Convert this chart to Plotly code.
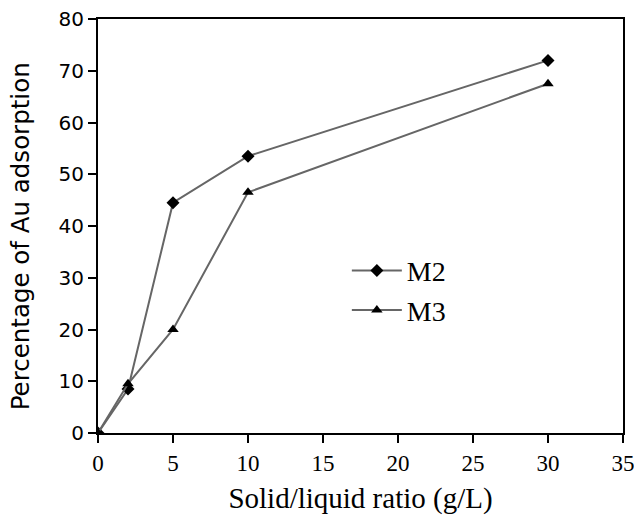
import plotly.graph_objects as go

ratio = [0, 2, 5, 10, 30]
m2 = [0, 8.5, 44.5, 53.5, 72]
m3 = [0, 9.5, 20, 46.5, 67.5]
x_ticks = [0, 5, 10, 15, 20, 25, 30, 35]
y_ticks = [0, 10, 20, 30, 40, 50, 60, 70, 80]

fig = go.Figure()
fig.add_trace(go.Scatter(x=ratio, y=m2, name="M2", mode="lines+markers",
                         line=dict(color="#666666", width=2),
                         marker=dict(symbol="diamond", size=10, color="black")))
fig.add_trace(go.Scatter(x=ratio, y=m3, name="M3", mode="lines+markers",
                         line=dict(color="#666666", width=2),
                         marker=dict(symbol="triangle-up", size=10, color="black")))

fig.update_layout(
    width=634, height=515,
    margin=dict(l=98, r=11, t=19, b=82),
    plot_bgcolor="white", paper_bgcolor="white",
    showlegend=True,
    legend=dict(x=0.474, y=0.452, xanchor="left", yanchor="top",
                bgcolor="rgba(0,0,0,0)", itemwidth=50,
                font=dict(family="Liberation Serif", size=28, color="black")),
    xaxis=dict(range=[0, 35], tickvals=x_ticks, showgrid=False, zeroline=False,
               automargin=False, ticklabeloverflow="allow",
               showline=True, linecolor="black", linewidth=2, mirror=True,
               ticks="outside", ticklen=8, tickwidth=1.5, tickcolor="black",
               tickfont=dict(family="Liberation Serif", size=23, color="black"),
               title=dict(text="Solid/liquid ratio (g/L)", standoff=16,
                          font=dict(family="Liberation Serif", size=29, color="black"))),
    yaxis=dict(range=[0, 80], tickvals=y_ticks, showgrid=False, zeroline=False,
               automargin=False, ticklabeloverflow="allow",
               showline=True, linecolor="black", linewidth=2, mirror=True,
               ticks="outside", ticklen=8, tickwidth=1.5, tickcolor="black",
               tickfont=dict(family="DejaVu Sans", size=20, color="black")),
    annotations=[dict(text="Percentage of Au adsorption", textangle=-90,
                      xref="paper", yref="paper", x=-0.146, y=0.476,
                      xanchor="center", yanchor="middle", showarrow=False,
                      font=dict(family="DejaVu Sans", size=24.5, color="black"))],
)
fig.write_html("out.html")
